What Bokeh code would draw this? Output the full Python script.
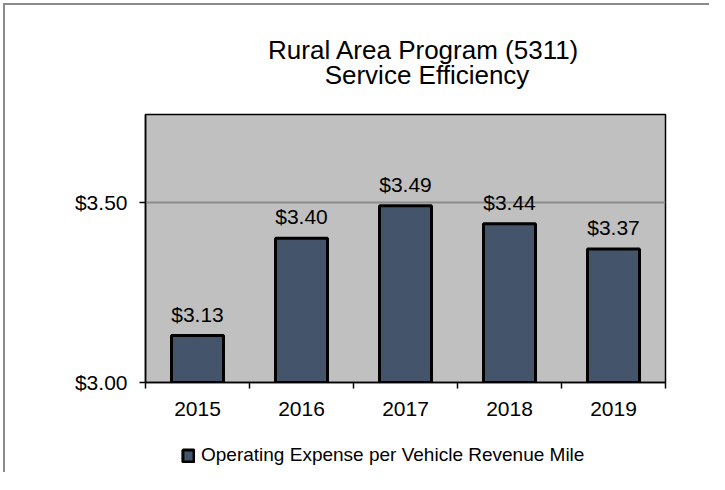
from bokeh.plotting import figure
from bokeh.layouts import column
from bokeh.models import (ColumnDataSource, FixedTicker, LabelSet, Label, Legend,
                          LegendItem, NumeralTickFormatter, Range1d)
from bokeh.core.properties import value
from bokeh.embed import file_html
from bokeh.resources import INLINE

years = ["2015", "2016", "2017", "2018", "2019"]
values = [3.13, 3.40, 3.49, 3.44, 3.37]
y_ticks = [3.0, 3.5]
title_line1 = "Rural  Area Program (5311)"
title_line2 = "Service Efficiency"
series_name = "Operating Expense per Vehicle Revenue Mile"

xs = [i + 1 for i in range(len(years))]
labels = ["$%.2f" % v for v in values]
src = ColumnDataSource(dict(x=xs, top=values, label=labels))

FONT = "Liberation Sans"
BAR_FILL = "#44546a"
W = 704
BL, BR = 140, 44          # side borders shared by all stacked figures
FX0, FX1 = 145, 665       # page x of the plot frame


def strip_figure(h, y_top):
    # figure whose frame coordinates equal page pixels (y grows downward)
    f = figure(width=W, height=h, output_backend="svg", toolbar_location=None,
               x_axis_type=None, y_axis_type=None,
               x_range=Range1d(FX0, FX1), y_range=Range1d(y_top + h, y_top),
               min_border_left=BL, min_border_right=BR, min_border_top=0,
               min_border_bottom=0, title=None)
    f.grid.visible = False
    f.outline_line_color = None
    f.background_fill_color = "white"
    f.border_fill_color = "white"
    return f


# ---- title strip
TH = 97
tf = strip_figure(TH, 5)
tf.add_layout(Label(x=427, y=49.5, text=title_line1, text_align="center",
                    text_baseline="alphabetic", text_font=FONT,
                    text_font_size="26px", text_color="black"))
tf.add_layout(Label(x=426.5, y=74.5, text=title_line2, text_align="center",
                    text_baseline="alphabetic", text_font=FONT,
                    text_font_size="26px", text_color="black"))

# ---- main chart
p = figure(width=W, height=320, output_backend="svg", toolbar_location=None,
           x_range=Range1d(0.5, len(years) + 0.5), y_range=Range1d(3.0, 3.743),
           min_border_left=BL, min_border_right=BR, min_border_top=12,
           min_border_bottom=40, title=None)
p.background_fill_color = "#c0c0c0"
p.border_fill_color = "white"
p.outline_line_color = "black"
p.outline_line_width = 1.5

bars = p.vbar(x="x", top="top", bottom=3.0, width=0.5, source=src,
              fill_color=BAR_FILL, line_color="black", line_width=3)

p.xgrid.visible = False
p.ygrid.ticker = FixedTicker(ticks=[3.5])
p.ygrid.grid_line_color = "#8c8c8c"
p.ygrid.grid_line_width = 2

xa = p.xaxis[0]
xa.ticker = FixedTicker(ticks=xs, minor_ticks=[x - 0.5 for x in xs] + [xs[-1] + 0.5])
xa.major_label_overrides = {x: y for x, y in zip(xs, years)}
xa.major_tick_out = 0
xa.major_tick_in = 0
xa.minor_tick_out = 6
xa.minor_tick_in = 0
xa.minor_tick_line_color = "black"
xa.minor_tick_line_width = 1.5
xa.axis_line_color = "black"
xa.axis_line_width = 1.5
xa.major_label_text_font = FONT
xa.major_label_text_font_size = "21px"
xa.major_label_text_color = "black"
xa.major_label_standoff = 13

ya = p.yaxis[0]
ya.ticker = FixedTicker(ticks=y_ticks)
ya.formatter = NumeralTickFormatter(format="$0.00")
ya.major_tick_out = 6
ya.major_tick_in = 0
ya.minor_tick_out = 0
ya.minor_tick_in = 0
ya.major_tick_line_color = "black"
ya.major_tick_line_width = 1.5
ya.axis_line_color = "black"
ya.axis_line_width = 1.5
ya.major_label_text_font = FONT
ya.major_label_text_font_size = "21px"
ya.major_label_text_color = "black"
ya.major_label_standoff = 12

ls = LabelSet(x="x", y="top", text="label", source=src, text_align="center",
              text_baseline="alphabetic", y_offset=14, text_font=value(FONT),
              text_font_size=value("21px"), text_color="black")
p.add_layout(ls)

# ---- legend strip (hidden key renderer with the bar style; legend shows it un-dimmed)
LH = 50
lf = strip_figure(LH, 422)
key = lf.vbar(x="x", top="top", bottom=3.0, width=0.5, source=src,
              fill_color=BAR_FILL, line_color="black", line_width=3)
key.visible = False
legend = Legend(items=[LegendItem(label=series_name, renderers=[key])],
                location=(36, 6), padding=0, margin=0, border_line_color=None,
                background_fill_alpha=0, glyph_width=14, glyph_height=15,
                inactive_fill_alpha=0, click_policy="none",
                label_standoff=6, label_text_font=FONT, label_text_font_size="19px",
                label_text_color="black")
lf.add_layout(legend)

layout = column(tf, p, lf, spacing=0)
layout.styles = {"margin-left": "3px", "margin-top": "3px",
                 "border-left": "2px solid #8c8c8c", "border-top": "2px solid #8c8c8c"}

open("out.html", "w").write(file_html(layout, INLINE))
